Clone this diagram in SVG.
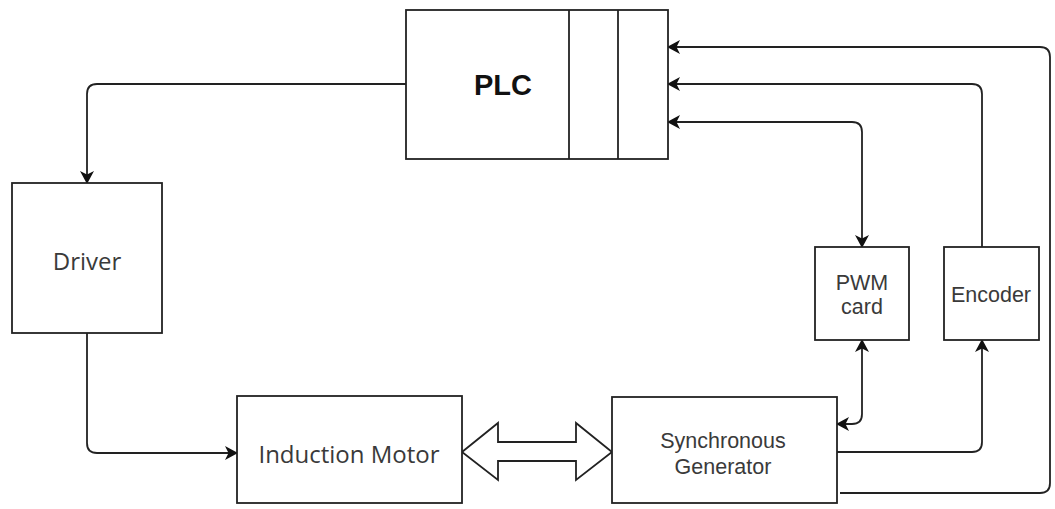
<svg xmlns="http://www.w3.org/2000/svg" width="1055" height="509" viewBox="0 0 1055 509">
<style>
.box{fill:#fff;stroke:#222;stroke-width:1.8}
.ln{fill:none;stroke:#222;stroke-width:1.8}
.t{font-family:"Open Sans","Liberation Sans",sans-serif;fill:#3a3a3a;text-anchor:middle;dominant-baseline:central}
.a{font-family:"Liberation Sans",Arial,sans-serif;fill:#3a3a3a;text-anchor:middle;dominant-baseline:central;font-size:21.5px}
</style>
<defs>
<marker id="a" viewBox="0 0 13 14" refX="12" refY="7" markerWidth="13" markerHeight="14" orient="auto-start-reverse" markerUnits="userSpaceOnUse">
<path d="M0,0 L13,7 L0,14 L3.5,7 z" fill="#111"/>
</marker>
</defs>
<rect width="1055" height="509" fill="#fff"/>
<g id="connectors">
<path class="ln" d="M406,84 H97 Q87,84 87,94 V183" marker-end="url(#a)"/>
<path class="ln" d="M87,333 V443 Q87,453 97,453 H237" marker-end="url(#a)"/>
<path class="ln" d="M840,493 H1040 Q1050,493 1050,483 V57 Q1050,47 1040,47 H668" marker-end="url(#a)"/>
<path class="ln" d="M982,247 V94 Q982,84 972,84 H668" marker-end="url(#a)"/>
<path class="ln" d="M668,122 H852 Q862,122 862,132 V247" marker-start="url(#a)" marker-end="url(#a)"/>
<path class="ln" d="M862,340 V414 Q862,424 852,424 H837" marker-start="url(#a)" marker-end="url(#a)"/>
<path class="ln" d="M837,452 H972 Q982,452 982,442 V340" marker-end="url(#a)"/>
<polygon class="box" points="462,452 498,423 498,442 576,442 576,423 612,452 576,480 576,461 498,461 498,480"/>
</g>
<g id="plc">
<rect class="box" x="406" y="10" width="262" height="149"/>
<line class="ln" x1="569" y1="10" x2="569" y2="159"/>
<line class="ln" x1="618" y1="10" x2="618" y2="159"/>
<text x="503" y="85" font-size="29" font-weight="bold" fill="#111" text-anchor="middle" dominant-baseline="central" font-family="'Liberation Sans',Arial,sans-serif">PLC</text>
</g>
<g id="driver">
<rect class="box" x="12" y="183" width="150" height="150"/>
<text class="t" x="87" y="260" font-size="24">Driver</text>
</g>
<g id="induction-motor">
<rect class="box" x="237" y="396" width="225" height="107"/>
<text class="t" x="349" y="453" font-size="24">Induction Motor</text>
</g>
<g id="synchronous-generator">
<rect class="box" x="612" y="397" width="225" height="106"/>
<text class="a" x="723" y="441">Synchronous</text>
<text class="a" x="723" y="467">Generator</text>
</g>
<g id="pwm-card">
<rect class="box" x="815" y="247" width="94" height="93"/>
<text class="a" x="862" y="283">PWM</text>
<text class="a" x="862" y="307">card</text>
</g>
<g id="encoder">
<rect class="box" x="944" y="247" width="95" height="93"/>
<text class="a" x="991" y="295">Encoder</text>
</g>
</svg>
